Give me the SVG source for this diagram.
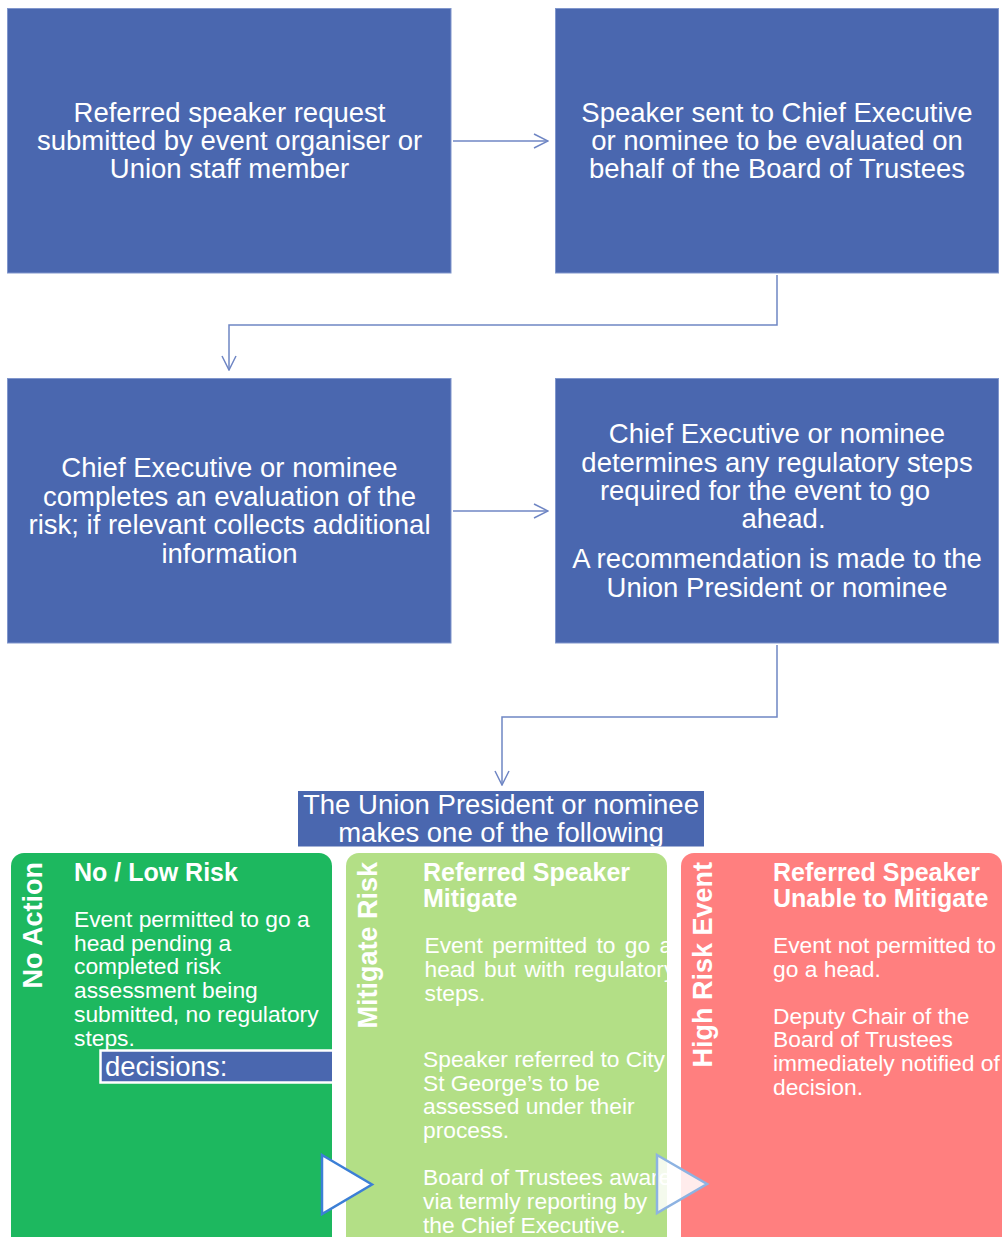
<svg xmlns="http://www.w3.org/2000/svg" width="1005" height="1237" viewBox="0 0 1005 1237">
<style>
.box{fill:#4A67AF;stroke:#8096CC;stroke-width:1}
.bt{font-family:"Liberation Sans",Arial,sans-serif;font-size:27.5px;fill:#fff;text-anchor:middle}
.hd{font-family:"Liberation Sans",Arial,sans-serif;font-size:25px;font-weight:bold;fill:#fff}
.vt{font-family:"Liberation Sans",Arial,sans-serif;font-size:27px;font-weight:bold;fill:#fff;text-anchor:end}
.tx{font-family:"Liberation Sans",Arial,sans-serif;font-size:22.8px;fill:#fff}
.con{fill:none;stroke:#6F86C4;stroke-width:1.5}
</style>
<defs>
<marker id="arr" markerUnits="userSpaceOnUse" viewBox="0 0 16 16" refX="15" refY="8" markerWidth="16" markerHeight="16" orient="auto">
<path d="M1,1 L15,8 L1,15" fill="none" stroke="#6F86C4" stroke-width="1.5"/>
</marker>
<clipPath id="cT"><rect x="298" y="791" width="406" height="55.5"/></clipPath>
<clipPath id="cG"><rect x="11" y="853" width="321" height="384"/></clipPath>
<clipPath id="cM"><rect x="346" y="853" width="321" height="384"/></clipPath>
<clipPath id="cR"><rect x="681" y="853" width="321" height="384"/></clipPath>
</defs>
<rect width="1005" height="1237" fill="#fff"/>

<g id="connectors">
<path class="con" d="M453,141 H548" marker-end="url(#arr)"/>
<path class="con" d="M777,275 V325 H229 V370" marker-end="url(#arr)"/>
<path class="con" d="M453,511 H548" marker-end="url(#arr)"/>
<path class="con" d="M777,645 V717 H502 V785" marker-end="url(#arr)"/>
</g>

<g id="n1">
<rect class="box" x="7.5" y="8.5" width="443.5" height="264.5"/>
<text class="bt" x="229.5" y="121.7">Referred speaker request</text>
<text class="bt" x="229.5" y="150">submitted by event organiser or</text>
<text class="bt" x="229.5" y="178.3">Union staff member</text>
</g>
<g id="n2">
<rect class="box" x="555.5" y="8.5" width="443" height="264.5"/>
<text class="bt" x="777" y="121.7">Speaker sent to Chief Executive</text>
<text class="bt" x="777" y="150">or nominee to be evaluated on</text>
<text class="bt" x="777" y="178.3">behalf of the Board of Trustees</text>
</g>
<g id="n3">
<rect class="box" x="7.5" y="378.5" width="443.5" height="264.5"/>
<text class="bt" x="229.5" y="477">Chief Executive or nominee</text>
<text class="bt" x="229.5" y="505.5">completes an evaluation of the</text>
<text class="bt" x="229.5" y="534">risk; if relevant collects additional</text>
<text class="bt" x="229.5" y="562.5">information</text>
</g>
<g id="n4">
<rect class="box" x="555.5" y="378.5" width="443" height="264.5"/>
<text class="bt" x="777" y="443.3">Chief Executive or nominee</text>
<text class="bt" x="777" y="471.7">determines any regulatory steps</text>
<text class="bt" x="765" y="499.5">required for the event to go</text>
<text class="bt" x="783.5" y="527.5">ahead.</text>
<text class="bt" x="777" y="568.3">A recommendation is made to the</text>
<text class="bt" x="777" y="596.5">Union President or nominee</text>
</g>
<g id="n5">
<rect x="298" y="791" width="406" height="55.5" fill="#4A67AF"/>
<g clip-path="url(#cT)">
<text class="bt" x="501" y="813.5">The Union President or nominee</text>
<text class="bt" x="501" y="842">makes one of the following</text>
</g>
</g>

<g id="col-green">
<rect x="11" y="853" width="321" height="400" rx="13" fill="#1DB85F"/>
<text class="vt" transform="translate(42,862) rotate(-90)">No Action</text>
<text class="hd" x="74" y="880.5">No / Low Risk</text>
<text class="tx" x="74" y="926.7">Event permitted to go a</text>
<text class="tx" x="74" y="950.5">head pending a</text>
<text class="tx" x="74" y="974.3">completed risk</text>
<text class="tx" x="74" y="998">assessment being</text>
<text class="tx" x="74" y="1021.8">submitted, no regulatory</text>
<text class="tx" x="74" y="1045.6">steps.</text>
<g clip-path="url(#cG)">
<rect x="100.5" y="1050.5" width="240" height="32" fill="#4A67AF" stroke="#fff" stroke-width="2.5"/>
<text class="bt" x="105" y="1076" style="text-anchor:start">decisions:</text>
</g>
</g>

<g id="col-mitigate">
<rect x="346" y="853" width="321" height="400" rx="13" fill="#B3DF86"/>
<text class="vt" transform="translate(377,862) rotate(-90)">Mitigate Risk</text>
<text class="hd" x="423" y="880.7">Referred Speaker</text>
<text class="hd" x="423" y="906.7">Mitigate</text>
<g clip-path="url(#cM)">
<text class="tx" x="424.5" y="953" word-spacing="3">Event permitted to go a</text>
<text class="tx" x="424.5" y="977" word-spacing="2.5">head but with regulatory</text>
<text class="tx" x="424.5" y="1000.5">steps.</text>
<text class="tx" x="423" y="1066.7">Speaker referred to City</text>
<text class="tx" x="423" y="1090.5">St George’s to be</text>
<text class="tx" x="423" y="1114.3">assessed under their</text>
<text class="tx" x="423" y="1138">process.</text>
<text class="tx" x="423" y="1185">Board of Trustees aware</text>
<text class="tx" x="423" y="1209">via termly reporting by</text>
<text class="tx" x="423" y="1233">the Chief Executive.</text>
</g>
</g>

<g id="col-high">
<rect x="681" y="853" width="321" height="400" rx="13" fill="#FF7F7F"/>
<text class="vt" transform="translate(712,862) rotate(-90)">High Risk Event</text>
<text class="hd" x="773" y="880.7">Referred Speaker</text>
<text class="hd" x="773" y="906.7">Unable to Mitigate</text>
<g clip-path="url(#cR)">
<text class="tx" x="773" y="953">Event not permitted to</text>
<text class="tx" x="773" y="977">go a head.</text>
<text class="tx" x="773" y="1023.5">Deputy Chair of the</text>
<text class="tx" x="773" y="1047.3">Board of Trustees</text>
<text class="tx" x="773" y="1071">immediately notified of</text>
<text class="tx" x="773" y="1094.8">decision.</text>
</g>
</g>

<g id="chevrons">
<polygon points="322,1155 372,1184.5 322,1214" fill="#fff" stroke="#3C7FD6" stroke-width="2.5"/>
<polygon points="657,1155 707,1184 657,1213" fill="#fff" fill-opacity="0.85" stroke="#8DB3E2" stroke-width="2.5"/>
</g>
</svg>
